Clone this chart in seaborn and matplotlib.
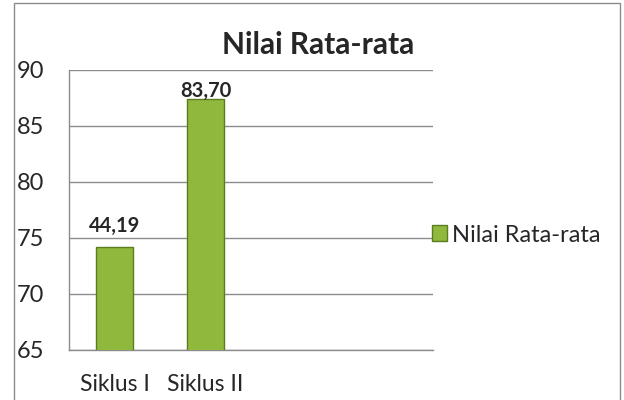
import matplotlib
matplotlib.use('Agg')
import matplotlib.pyplot as plt
import matplotlib.patches as mpatches
import seaborn as sns
import pandas as pd

kategori = ['Siklus I', 'Siklus II']
nilai = [74.2, 87.4]
label_nilai = ['44,19', '83,70']
judul = 'Nilai Rata-rata'
y_ticks = [65, 70, 75, 80, 85, 90]

sns.set_style('white')
plt.rcParams['font.family'] = ['Lato', 'DejaVu Sans']

df = pd.DataFrame({'kategori': kategori, 'nilai': nilai})

fig = plt.figure(figsize=(6.24, 4.0), dpi=100)
ax = fig.add_axes([69 / 624, 50 / 400, 364 / 624, 280 / 400])

sns.barplot(data=df, x='kategori', y='nilai', ax=ax, width=0.4,
            color='#8FB83C', edgecolor='#5C7C1F', linewidth=1.0,
            saturation=1, zorder=3)

ax.set_xlim(-0.5, 3.5)
ax.set_ylim(65, 90)
ax.set_yticks(y_ticks)
ax.set_yticklabels([str(v) for v in y_ticks], fontsize=17)
ax.yaxis.grid(True, color='#8c8c8c', linewidth=1.0, zorder=0)
ax.set_axisbelow(True)

# ticks on category boundaries, labels on the centres
ax.set_xticks([-0.5, 0.5, 1.5, 2.5, 3.5])
ax.set_xticklabels([])
ax.set_xticks([0, 1], minor=True)
ax.set_xticklabels(kategori, minor=True, fontsize=16.5)
ax.tick_params(axis='x', which='major', direction='out', length=6,
               color='#8c8c8c', width=1)
ax.tick_params(axis='x', which='minor', length=0, pad=17)
ax.tick_params(axis='y', direction='out', length=5, color='#8c8c8c',
               width=1, pad=13)
ax.set_xlabel('')
ax.set_ylabel('')

for side in ['top', 'right']:
    ax.spines[side].set_visible(False)
for side in ['left', 'bottom']:
    ax.spines[side].set_color('#8c8c8c')
    ax.spines[side].set_linewidth(1)

# Excel puts the labels a bit unevenly above the bars
jarak = [8, -1]
for rect, teks, off in zip(ax.patches, label_nilai, jarak):
    ax.annotate(teks, (rect.get_x() + rect.get_width() / 2, rect.get_height()),
                xytext=(0, off), textcoords='offset points', ha='center',
                va='bottom', fontsize=14.5, fontweight='bold', zorder=4)

fig.text(318 / 624, 1 - 45 / 400, judul, ha='center', va='center',
         fontsize=21.5, fontweight='bold')

handle = mpatches.Patch(facecolor='#8FB83C', edgecolor='#5C7C1F', label=judul)
fig.legend(handles=[handle], loc='center left',
           bbox_to_anchor=(420 / 624, 1 - 235 / 400), frameon=False,
           fontsize=17, handlelength=0.65, handleheight=0.65,
           handletextpad=0.2, borderpad=0)

fig.patches.append(mpatches.Rectangle((14 / 624, -0.05), 606 / 624, 1.05 - 3 / 400,
                                      transform=fig.transFigure, fill=False,
                                      edgecolor='#8c8c8c', linewidth=1))

fig.savefig('out.png', dpi=100)
